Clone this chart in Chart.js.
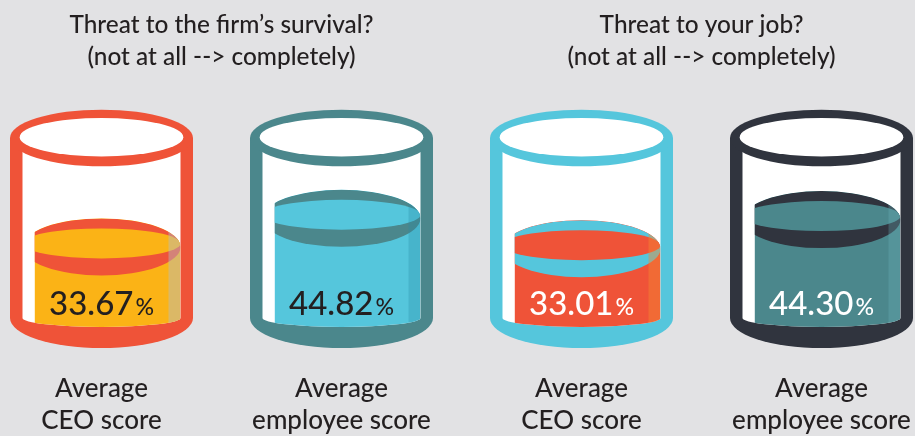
<!DOCTYPE html>
<html>
<head>
<meta charset="utf-8">
<script src="https://cdn.jsdelivr.net/npm/chart.js@4.4.1/dist/chart.umd.min.js"></script>
<style>
  html, body { margin: 0; padding: 0; background: #e2e2e4; }
  #wrap { width: 915px; height: 436px; }
</style>
</head>
<body>
<div id="wrap"><canvas id="chart"></canvas></div>
<script>
const titles = ['Threat to the firm’s survival?', 'Threat to your job?'];
const subtitle = '(not at all --> completely)';
const labels = [['Average', 'CEO score'], ['Average', 'employee score'], ['Average', 'CEO score'], ['Average', 'employee score']];
const scores = [33.67, 44.82, 33.01, 44.30];

// styles
const glassColors = ['#ef5338', '#4b878c', '#55c6dc', '#30343e'];
const liquidColors = ['#fbb316', '#55c6dc', '#ef5338', '#4b878c'];
const stripColors = ['rgba(180,190,200,0.45)', 'rgba(40,140,165,0.3)', 'rgba(245,135,50,0.45)', 'rgba(110,180,190,0.3)'];
const valueColors = ['#231f20', '#231f20', '#ffffff', '#ffffff'];
const textColor = '#231f20';
const fontFamily = 'Lato, "Open Sans", sans-serif';

const TAU = Math.PI * 2;

function ellipse(ctx, x, y, rx, ry) {
	ctx.beginPath();
	ctx.ellipse(x, y, rx, ry, 0, 0, TAU);
	ctx.fill();
}

// glass body outline, down the sides and round the bottom
function bodyPath(ctx, cx, top, yb, r, ry) {
	ctx.beginPath();
	ctx.moveTo(cx - r, top);
	ctx.lineTo(cx - r, yb);
	ctx.ellipse(cx, yb, r, ry, 0, Math.PI, 0, true);
	ctx.lineTo(cx + r, top);
	ctx.closePath();
}

const cylinderPlugin = {
	id: 'cylinders',
	afterDatasetsDraw(chart) {
		const ctx = chart.ctx;
		const area = chart.chartArea;
		const meta = chart.getDatasetMeta(0);
		const outerR = 91.5, wall = 12.5, innerR = outerR - wall;
		const top = area.top;
		const yb = area.bottom - 15.6;

		meta.data.forEach((bar, i) => {
			const cx = bar.x;
			const ys = bar.y;
			const bottom = yb + 12;

			ctx.save();
			// outline body
			ctx.fillStyle = glassColors[i];
			bodyPath(ctx, cx, top, yb, outerR, 30);
			ctx.fill();
			// glass inside
			ctx.fillStyle = '#ffffff';
			bodyPath(ctx, cx, top, yb, innerR, 9);
			ctx.fill();

			// liquid
			ctx.save();
			bodyPath(ctx, cx, top, yb, innerR, 9);
			ctx.clip();
			ctx.beginPath();
			ctx.rect(cx - innerR + 12.3, 0, innerR * 2, chart.height);
			ctx.clip();
			ctx.beginPath();
			ctx.rect(cx - innerR, ys, innerR * 2, bottom - ys);
			ctx.ellipse(cx, ys, innerR, 28.5, 0, 0, TAU);
			ctx.clip();
			ctx.fillStyle = liquidColors[i];
			ctx.fillRect(cx - innerR, ys - 30, innerR * 2, bottom - ys + 30);
			ctx.fillStyle = glassColors[i];
			ellipse(ctx, cx, ys, innerR, 28.5);
			ctx.fillStyle = liquidColors[i];
			ellipse(ctx, cx, ys - 3.5, innerR, 15);
			ctx.fillStyle = stripColors[i];
			ctx.fillRect(cx + innerR - 12, ys - 30, 12, bottom - ys + 30);
			ctx.restore();

			// rim
			ctx.fillStyle = glassColors[i];
			ellipse(ctx, cx, top, outerR, 28.3);
			ctx.fillStyle = '#ffffff';
			ellipse(ctx, cx, top - 0.8, 81.8, 19.2);

			// value
			const num = scores[i].toFixed(2);
			ctx.textBaseline = 'alphabetic';
			ctx.textAlign = 'left';
			ctx.font = '500 33px ' + fontFamily;
			const w1 = ctx.measureText(num).width;
			ctx.font = '500 23px ' + fontFamily;
			const w2 = ctx.measureText('%').width;
			const x0 = cx - (w1 + w2 + 2) / 2;
			ctx.fillStyle = valueColors[i];
			ctx.font = '500 33px ' + fontFamily;
			ctx.fillText(num, x0, yb - 3);
			ctx.font = '500 23px ' + fontFamily;
			ctx.fillText('%', x0 + w1 + 2, yb - 3);
			ctx.restore();
		});
	}
};

const titlePlugin = {
	id: 'groupTitles',
	afterDraw(chart) {
		const ctx = chart.ctx;
		const meta = chart.getDatasetMeta(0);
		ctx.save();
		ctx.fillStyle = textColor;
		ctx.textAlign = 'center';
		ctx.textBaseline = 'alphabetic';
		ctx.font = '500 24.4px ' + fontFamily;
		titles.forEach((t, g) => {
			const x = (meta.data[g * 2].x + meta.data[g * 2 + 1].x) / 2;
			ctx.fillText(t, x, 33);
			ctx.fillText(subtitle, x, 65);
		});
		ctx.restore();
	}
};

new Chart(document.getElementById('chart'), {
	type: 'bar',
	data: {
		labels: labels,
		datasets: [{
			label: 'Score',
			data: scores,
			backgroundColor: 'rgba(0,0,0,0)',
			borderWidth: 0,
			barThickness: 158
		}]
	},
	options: {
		responsive: true,
		maintainAspectRatio: false,
		animation: false,
		layout: {
			padding: { top: 138, left: 101.5, right: 93.5, bottom: 0 }
		},
		plugins: {
			legend: { display: false },
			tooltip: { enabled: false }
		},
		scales: {
			x: {
				offset: false,
				grid: { display: false, drawTicks: false },
				border: { display: false },
				afterFit(scale) {
					scale.height = 102.4;
					scale.paddingLeft = 0;
					scale.paddingRight = 0;
				},
				ticks: {
					color: textColor,
					padding: 39,
					autoSkip: false,
					maxRotation: 0,
					font: { family: fontFamily, size: 26, weight: '500', lineHeight: 1.23 }
				}
			},
			y: {
				display: false,
				min: 0,
				max: 76
			}
		}
	},
	plugins: [cylinderPlugin, titlePlugin]
});
</script>
</body>
</html>
